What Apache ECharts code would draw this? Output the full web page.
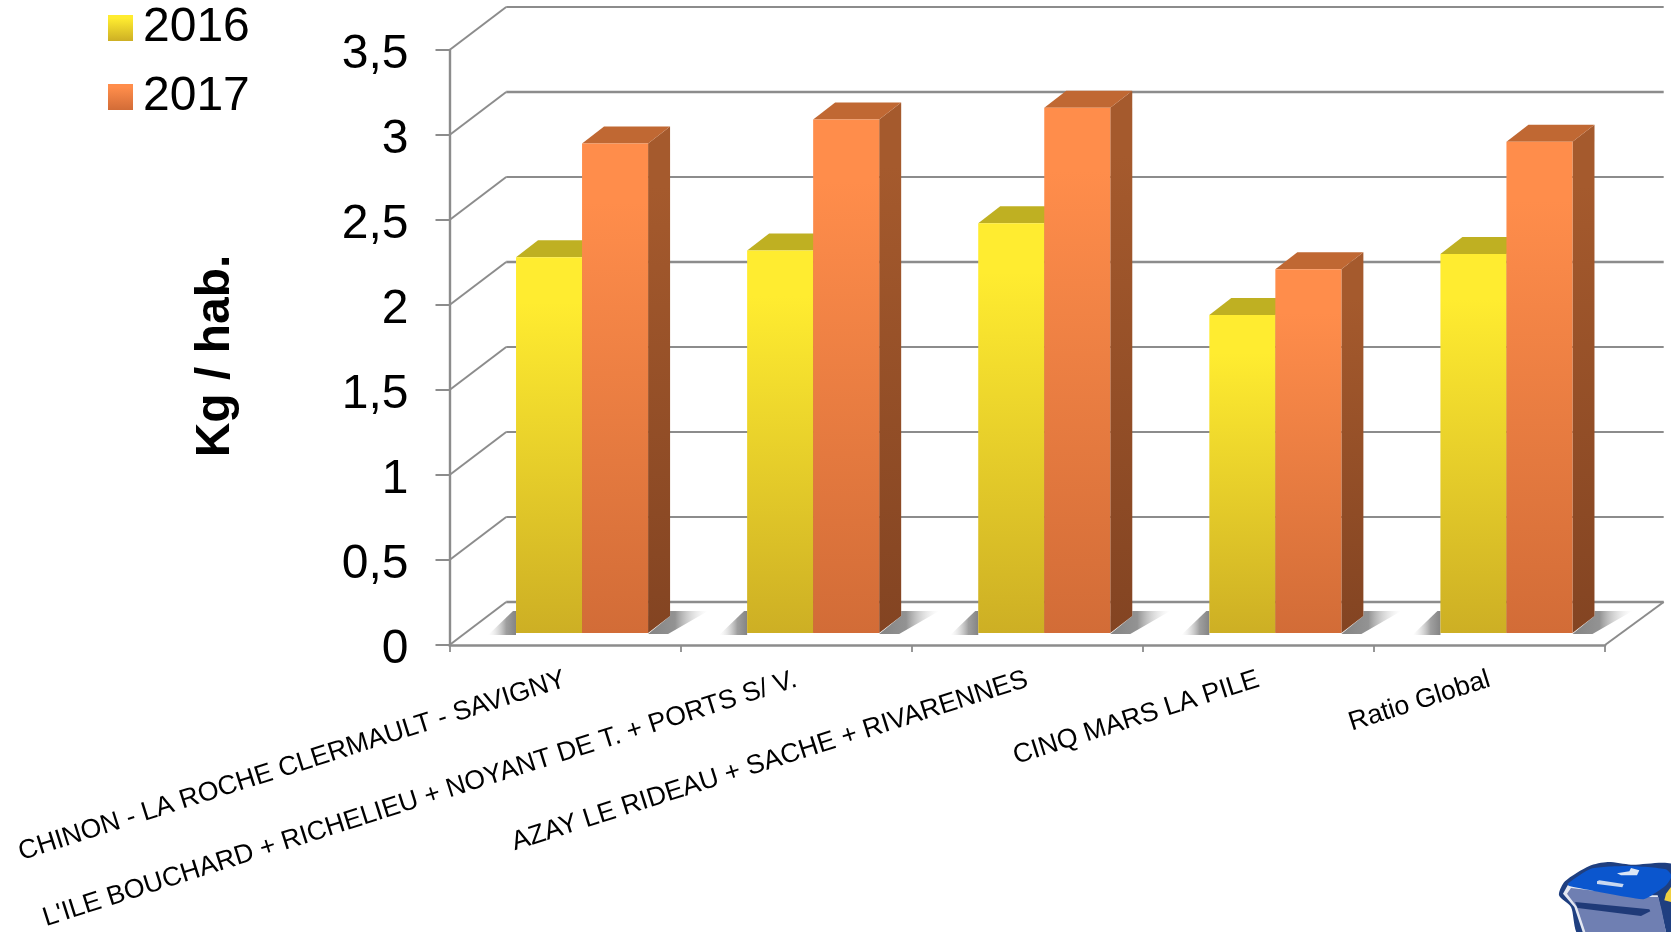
<!DOCTYPE html>
<html><head><meta charset="utf-8">
<style>html,body{margin:0;padding:0;background:#fff}#c{width:1671px;height:932px}</style>
<script src="https://cdn.jsdelivr.net/npm/echarts@6/dist/echarts.min.js"></script>
</head><body><div id="c"></div>
<script>
const categories = [
  "CHINON - LA ROCHE CLERMAULT - SAVIGNY",
  "L'ILE BOUCHARD + RICHELIEU + NOYANT DE T. + PORTS S/ V.",
  "AZAY LE RIDEAU + SACHE + RIVARENNES",
  "CINQ MARS LA PILE",
  "Ratio Global"
];
const values2016 = [2.21, 2.25, 2.41, 1.87, 2.23];
const values2017 = [2.88, 3.02, 3.09, 2.14, 2.89];
const wallTicks = [0, 0.5, 1, 1.5, 2, 2.5, 3, 3.5];

const FONT = '"Liberation Sans", Arial, sans-serif';
const GREY = '#8c8c8c';
const WALL_DX = 56.7, WALL_DY = 43;   // wall depth
const BASE_DX = 17, BASE_DY = 12;     // bar position on the floor
const BAR_DX = 22, BAR_DY = 17;       // bar depth
const BAR_W_RATIO = 66 / 231;

function vgrad(a, b) {
  return new echarts.graphic.LinearGradient(0, 0, 0, 1, [{offset: 0, color: a}, {offset: 0.12, color: a}, {offset: 1, color: b}]);
}

function wallItem(params, api) {
  const v = api.value(0);
  const cs = params.coordSys;
  const y = api.coord([0, v])[1];
  const xl = cs.x, xr = cs.x + cs.width;
  const children = [
    {type: 'line', shape: {x1: xl, y1: y, x2: xl + WALL_DX, y2: y - WALL_DY},
     style: {stroke: GREY, lineWidth: 2, fill: null}},
    {type: 'line', shape: {x1: xl + WALL_DX, y1: y - WALL_DY, x2: xr + WALL_DX + 2, y2: y - WALL_DY},
     style: {stroke: GREY, lineWidth: (v === 2 || v === 3 || v === 0) ? 2.6 : 2.1, fill: null}}
  ];
  if (v === 0) {
    children.push({type: 'line', shape: {x1: xr, y1: y, x2: xr + WALL_DX + 2, y2: y - WALL_DY},
      style: {stroke: GREY, lineWidth: 2, fill: null}});
  }
  return {type: 'group', children};
}

function barItem(palette, side) {
  return function (params, api) {
    const idx = api.value(0), v = api.value(1);
    const w = api.size([1, 0])[0] * BAR_W_RATIO;
    const top = api.coord([idx, v]);
    const base = api.coord([idx, 0]);
    const cx = top[0] + BASE_DX;
    const x0 = side < 0 ? cx - w : cx;
    const x1 = x0 + w;
    const yT = top[1] - BASE_DY;
    const yB = base[1] - BASE_DY;
    const children = [];
    if (side < 0) {
      children.push({type: 'polygon',
        shape: {points: [[x0 - 28, yB + 2], [x0, yB + 2], [x0, yB - 22], [x0 - 3, yB - 22]]},
        style: {fill: new echarts.graphic.LinearGradient(1, 0, 0, 0, [
          {offset: 0, color: 'rgba(125,125,125,0.95)'},
          {offset: 0.35, color: 'rgba(135,135,135,0.8)'},
          {offset: 1, color: 'rgba(220,220,220,0)'}])}});
    } else {
      children.push({type: 'polygon',
        shape: {points: [[x1, yB + 1], [x1 + BAR_DX, yB - BAR_DY], [x1 + BAR_DX, yB - 22], [x1 + 60, yB - 22], [x1 + 20, yB + 1]]},
        style: {fill: new echarts.graphic.LinearGradient(0, 0, 1, 0, [
          {offset: 0, color: 'rgba(125,125,125,0.95)'},
          {offset: 0.45, color: 'rgba(135,135,135,0.9)'},
          {offset: 1, color: 'rgba(220,220,220,0)'}])}});
    }
    children.push(
      {type: 'polygon',
       shape: {points: [[x1, yT], [x1 + BAR_DX, yT - BAR_DY], [x1 + BAR_DX, yB - BAR_DY], [x1, yB]]},
       style: {fill: vgrad(palette.sideTop, palette.sideBottom)}},
      {type: 'polygon',
       shape: {points: [[x0, yT], [x0 + BAR_DX, yT - BAR_DY], [x1 + BAR_DX, yT - BAR_DY], [x1, yT]]},
       style: {fill: palette.cap}},
      {type: 'rect', shape: {x: x0, y: yT, width: w, height: yB - yT},
       style: {fill: vgrad(palette.top, palette.bottom)}}
    );
    return {type: 'group', children};
  };
}

const yellow = {top: '#FFEC30', bottom: '#CDAF24', cap: '#BFB022', sideTop: '#A89A20', sideBottom: '#8A7A18'};
const orange = {top: '#FF8D4B', bottom: '#D26C37', cap: '#C06833', sideTop: '#A55A2D', sideBottom: '#834422'};

// decorative wheelie-bin clipart, bottom right corner
function P(pts) { return pts.map(p => [1551 + p[0] / 3, 852 + p[1] / 3]); }
const binGraphic = [
  {type: 'polygon', z: 20, shape: {smooth: 0.25, points: P([[24,130],[42,88],[115,42],[170,30],[240,38],[372,42],[372,250],[85,250],[60,165]])},
   style: {fill: '#1F3F80'}},
  {type: 'polygon', z: 21, shape: {points: P([[36,125],[50,100],[290,130],[320,130],[330,175],[345,240],[95,240],[70,165]])},
   style: {fill: '#E4E8F2'}},
  {type: 'polygon', z: 21, shape: {points: P([[48,125],[60,108],[290,135],[322,135],[332,175],[345,240],[103,240],[78,165]])},
   style: {fill: '#6F7FB2'}},
  {type: 'polygon', z: 22, shape: {points: P([[72,150],[295,172],[298,178],[270,192],[80,168]])},
   style: {fill: '#1F3A78'}},
  {type: 'polygon', z: 23, shape: {smooth: 0.2, points: P([[50,95],[120,50],[235,42],[345,52],[362,72],[345,100],[305,128],[275,142],[55,102]])},
   style: {fill: '#0B56CE'}},
  {type: 'polygon', z: 24, shape: {points: P([[138,88],[145,85],[218,96],[214,106],[138,96]])},
   style: {fill: '#C9D8F0'}},
  {type: 'polygon', z: 24, shape: {points: P([[198,64],[235,58],[240,48],[265,55],[258,70],[210,70]])},
   style: {fill: '#DCE6F5'}},
  {type: 'polygon', z: 24, shape: {points: P([[360,105],[345,125],[340,145],[360,150]])},
   style: {fill: '#F0D040'}}
];

const chart = echarts.init(document.getElementById('c'), null, {renderer: 'canvas'});
chart.setOption({
  animation: false,
  backgroundColor: '#ffffff',
  textStyle: {fontFamily: FONT},
  grid: {left: 449.5, right: 66, top: 50, bottom: 287, containLabel: false, outerBoundsMode: 'none'},
  legend: {
    orient: 'vertical', left: 103, top: -1,
    data: [{name: '2016', icon: 'rect'}, {name: '2017', icon: 'rect'}],
    itemWidth: 25, itemHeight: 26, itemGap: 21,
    textStyle: {fontSize: 48, color: '#000', fontFamily: FONT, padding: [2, 0, 0, 5]}
  },
  xAxis: {
    type: 'category', data: categories, boundaryGap: true,
    axisLine: {show: true, lineStyle: {color: GREY, width: 2.6}},
    axisTick: {show: true, length: 7, lineStyle: {color: GREY, width: 1.8}},
    axisLabel: {interval: 0, rotate: 17.7, margin: 34, fontSize: 26.7, color: '#000', fontFamily: FONT, hideOverlap: false},
    splitLine: {show: false}
  },
  yAxis: {
    type: 'value', min: 0, max: 3.5, interval: 0.5,
    name: 'Kg / hab.', nameLocation: 'middle', nameGap: 210, nameRotate: 90,
    nameTextStyle: {fontSize: 48, fontWeight: 'bold', color: '#000', fontFamily: FONT, padding: [0, 17, 0, 0]},
    axisLine: {show: true, lineStyle: {color: GREY, width: 2.4}},
    axisTick: {show: true, length: 14, lineStyle: {color: GREY, width: 2}},
    axisLabel: {margin: 41, color: '#000', fontFamily: FONT,
      formatter: v => '{t|' + String(v).replace('.', ',') + '}',
      rich: {t: {fontSize: 48, color: '#000', fontFamily: FONT, padding: [10, 0, 0, 0]}}},
    splitLine: {show: false}
  },
  graphic: binGraphic,
  series: [
    {type: 'custom', name: 'walls', z: 1, silent: true, encode: {x: -1, y: 0},
     data: wallTicks.map(v => [v]), renderItem: wallItem, clip: false, tooltip: {show: false}},
    {type: 'custom', name: '2016', z: 2, clip: false, encode: {x: 0, y: 1},
     itemStyle: {color: vgrad('#FFEC30', '#CDAF24')},
     data: values2016.map((v, i) => [i, v]), renderItem: barItem(yellow, -1)},
    {type: 'custom', name: '2017', z: 3, clip: false, encode: {x: 0, y: 1},
     itemStyle: {color: vgrad('#FF8D4B', '#D26C37')},
     data: values2017.map((v, i) => [i, v]), renderItem: barItem(orange, 1)}
  ]
});
</script></body></html>
